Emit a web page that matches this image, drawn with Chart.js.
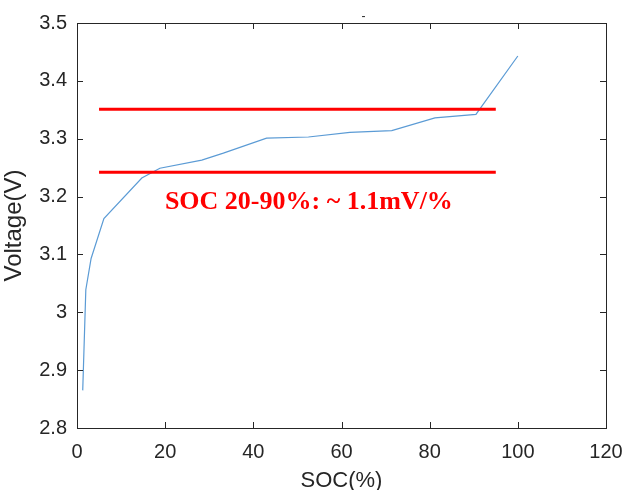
<!DOCTYPE html>
<html>
<head>
<meta charset="utf-8">
<script src="https://cdn.jsdelivr.net/npm/chart.js@4/dist/chart.umd.min.js"></script>
<style>
html,body{margin:0;padding:0;background:#fff;}
#wrap{width:625px;height:490px;position:relative;}
</style>
</head>
<body>
<div id="wrap"><canvas id="c" width="625" height="490"></canvas></div>
<script>
// ---- data ----
const socValues = [1.3, 2.0, 3.2, 6.1, 14.7, 18.8, 28.3, 33.2, 43.0, 52.5, 61.9, 71.4, 81.2, 90.5, 100];
const voltageValues = [2.865, 3.039, 3.093, 3.162, 3.232, 3.249, 3.263, 3.275, 3.301, 3.303, 3.311, 3.314, 3.336, 3.342, 3.443];
const upperLineSoc = [5, 95];
const upperLineV = [3.351, 3.351];
const lowerLineSoc = [5, 95];
const lowerLineV = [3.242, 3.242];
const xTickLabels = ['0', '20', '40', '60', '80', '100', '120'];
const yTickLabels = ['2.8', '2.9', '3', '3.1', '3.2', '3.3', '3.4', '3.5'];
const annotationText = 'SOC 20-90%: ~ 1.1mV/%';
const annotationPos = [52.6, 3.178];
const titleText = '-';

const toPts = (xs, ys) => xs.map((x, i) => ({x: x, y: ys[i]}));
const axisColor = '#262626';

const boxAndText = {
  id: 'boxAndText',
  afterDatasetsDraw(chart) {
    const {ctx, chartArea: a, scales} = chart;
    const xs = scales.x, ys = scales.y;
    ctx.save();
    // annotation
    ctx.fillStyle = '#ff0000';
    ctx.font = 'bold 26px "Liberation Serif", "Times New Roman", serif';
    ctx.textAlign = 'center';
    ctx.textBaseline = 'alphabetic';
    ctx.fillText(annotationText, xs.getPixelForValue(annotationPos[0]), ys.getPixelForValue(annotationPos[1]));
    // box
    ctx.strokeStyle = axisColor;
    ctx.lineWidth = 1;
    ctx.strokeRect(Math.round(a.left) + 0.5, Math.round(a.top) + 0.5, Math.round(a.right - a.left), Math.round(a.bottom - a.top));
    // inner ticks
    const tl = 6;
    ctx.beginPath();
    xs.ticks.forEach(t => {
      const px = Math.round(xs.getPixelForValue(t.value)) + 0.5;
      ctx.moveTo(px, a.bottom); ctx.lineTo(px, a.bottom - tl);
      ctx.moveTo(px, a.top); ctx.lineTo(px, a.top + tl);
    });
    ys.ticks.forEach(t => {
      const py = Math.round(ys.getPixelForValue(t.value)) + 0.5;
      ctx.moveTo(a.left, py); ctx.lineTo(a.left + tl, py);
      ctx.moveTo(a.right, py); ctx.lineTo(a.right - tl, py);
    });
    ctx.stroke();
    // tiny title
    ctx.fillStyle = axisColor;
    ctx.font = '12px "Liberation Sans", Arial, sans-serif';
    ctx.textAlign = 'center';
    ctx.textBaseline = 'middle';
    ctx.fillText(titleText, (a.left + a.right) / 2 + 22, a.top - 6);
    ctx.restore();
  }
};

new Chart(document.getElementById('c'), {
  type: 'scatter',
  data: {
    datasets: [
      {data: toPts(socValues, voltageValues), showLine: true, borderColor: '#5b9bd5', borderWidth: 1.2, pointRadius: 0, tension: 0, order: 2},
      {data: toPts(upperLineSoc, upperLineV), showLine: true, borderColor: '#ff0000', borderWidth: 3, pointRadius: 0, order: 1},
      {data: toPts(lowerLineSoc, lowerLineV), showLine: true, borderColor: '#ff0000', borderWidth: 3, pointRadius: 0, order: 1}
    ]
  },
  options: {
    responsive: false,
    animation: false,
    layout: {padding: {top: 23, right: 19, left: 0, bottom: 0}},
    plugins: {legend: {display: false}, tooltip: {enabled: false}, title: {display: false}},
    scales: {
      x: {
        type: 'linear', min: 0, max: 120,
        ticks: {stepSize: 20, padding: 12, color: axisColor, maxRotation: 0,
          font: {family: '"Liberation Sans", Arial, sans-serif', size: 20},
          callback: (v) => xTickLabels[Math.round(v / 20)]},
        grid: {display: true, drawOnChartArea: false, drawTicks: false},
        border: {display: false},
        title: {display: true, text: 'SOC(%)', color: axisColor, padding: {top: 0, bottom: -2},
          font: {family: '"Liberation Sans", Arial, sans-serif', size: 22, lineHeight: 1}},
        afterFit: (s) => { s.height = 62; s.paddingLeft = 0; s.paddingRight = 0; }
      },
      y: {
        type: 'linear', min: 2.8, max: 3.5,
        ticks: {stepSize: 0.1, padding: 10, color: axisColor,
          font: {family: '"Liberation Sans", Arial, sans-serif', size: 20},
          callback: (v) => yTickLabels[Math.round((v - 2.8) * 10)]},
        grid: {display: true, drawOnChartArea: false, drawTicks: false},
        border: {display: false},
        title: {display: true, text: 'Voltage(V)', color: axisColor, padding: {top: 2, bottom: 0},
          font: {family: '"Liberation Sans", Arial, sans-serif', size: 24, lineHeight: 1}},
        afterFit: (s) => { s.width = 77; s.paddingTop = 0; s.paddingBottom = 0; }
      }
    }
  },
  plugins: [boxAndText]
});
</script>
</body>
</html>
